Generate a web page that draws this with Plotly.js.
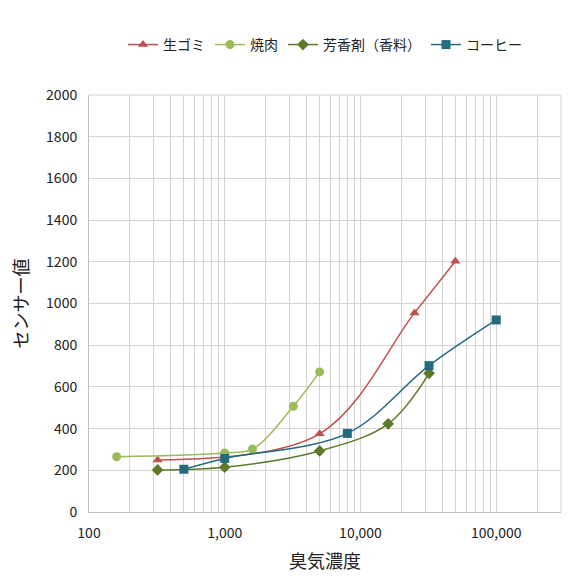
<!DOCTYPE html>
<html>
<head>
<meta charset="utf-8">
<script src="https://cdn.plot.ly/plotly-3.0.1.min.js"></script>
<style>html,body{margin:0;padding:0;background:#fff;}#chart{width:584px;height:577px;}</style>
</head>
<body>
<div id="chart"></div>
<script>
// Data
const garbageX = [320, 5000, 25000, 50000];
const garbageY = [250, 375, 955, 1203];
const meatX = [160, 1000, 1600, 3200, 5000];
const meatY = [265, 283, 302, 507, 672];
const fragranceX = [320, 1000, 5000, 16000, 32000];
const fragranceY = [202, 215, 293, 423, 665];
const coffeeX = [500, 1000, 8000, 32000, 100000];
const coffeeY = [205, 257, 377, 702, 921];
const seriesNames = ["生ゴミ", "焼肉", "芳香剤（香料）", "コーヒー"];
const xTickVals = [100, 1000, 10000, 100000];
const xTickText = ["100", "1,000", "10,000", "100,000"];

const FONT = '"Noto Sans CJK JP", "Noto Sans", sans-serif';

function tr(x, y, name, color, symbol, size) {
  return {
    x: x, y: y, name: name, type: 'scatter', mode: 'lines+markers',
    line: {color: color, width: 1.5, shape: 'spline', smoothing: 1},
    marker: {color: color, symbol: symbol, size: size}
  };
}

const data = [
  tr(garbageX, garbageY, seriesNames[0], '#C0504D', 'triangle-up', 9),
  tr(meatX, meatY, seriesNames[1], '#9BBB59', 'circle', 9),
  tr(fragranceX, fragranceY, seriesNames[2], '#5C7A29', 'diamond', 9),
  tr(coffeeX, coffeeY, seriesNames[3], '#236B7E', 'square', 9)
];

const layout = {
  width: 584, height: 577,
  margin: {l: 89, r: 23, t: 95, b: 65},
  paper_bgcolor: '#fff', plot_bgcolor: '#fff',
  font: {family: FONT, size: 14, color: '#222'},
  showlegend: true,
  legend: {orientation: 'h', x: 0.5, xanchor: 'center', y: 1.12, yanchor: 'middle',
           font: {size: 14, color: '#222'}, itemwidth: 30, traceorder: 'normal'},
  xaxis: {
    type: 'log', range: [2, Math.log10(300000)],
    tickvals: xTickVals, ticktext: xTickText,
    showgrid: true, gridcolor: '#D4D4D4', gridwidth: 1,
    minor: {dtick: 'D1', showgrid: true, gridcolor: '#D4D4D4', gridwidth: 1},
    showline: true, linecolor: '#BFBFBF', linewidth: 1, mirror: false,
    ticks: '', zeroline: false, ticklabelstandoff: 8,
    tickfont: {size: 14, color: '#222'},
    title: {text: '臭気濃度', font: {size: 18, color: '#222'}, standoff: 14}
  },
  yaxis: {
    range: [0, 2000], dtick: 200,
    showgrid: true, gridcolor: '#D4D4D4', gridwidth: 1,
    showline: true, linecolor: '#BFBFBF', linewidth: 1,
    ticks: '', zeroline: false, ticklabelstandoff: 8,
    tickfont: {size: 14, color: '#222'},
    title: {text: 'センサー値', font: {size: 18, color: '#222'}, standoff: 12}
  },
  shapes: [
    {type: 'line', xref: 'paper', yref: 'paper', x0: 0, x1: 1, y0: 1, y1: 1, line: {color: '#D4D4D4', width: 1}},
    {type: 'line', xref: 'paper', yref: 'paper', x0: 1, x1: 1, y0: 0, y1: 1, line: {color: '#D4D4D4', width: 1}}
  ]
};

Plotly.newPlot('chart', data, layout, {displayModeBar: false, staticPlot: true});
</script>
</body>
</html>
